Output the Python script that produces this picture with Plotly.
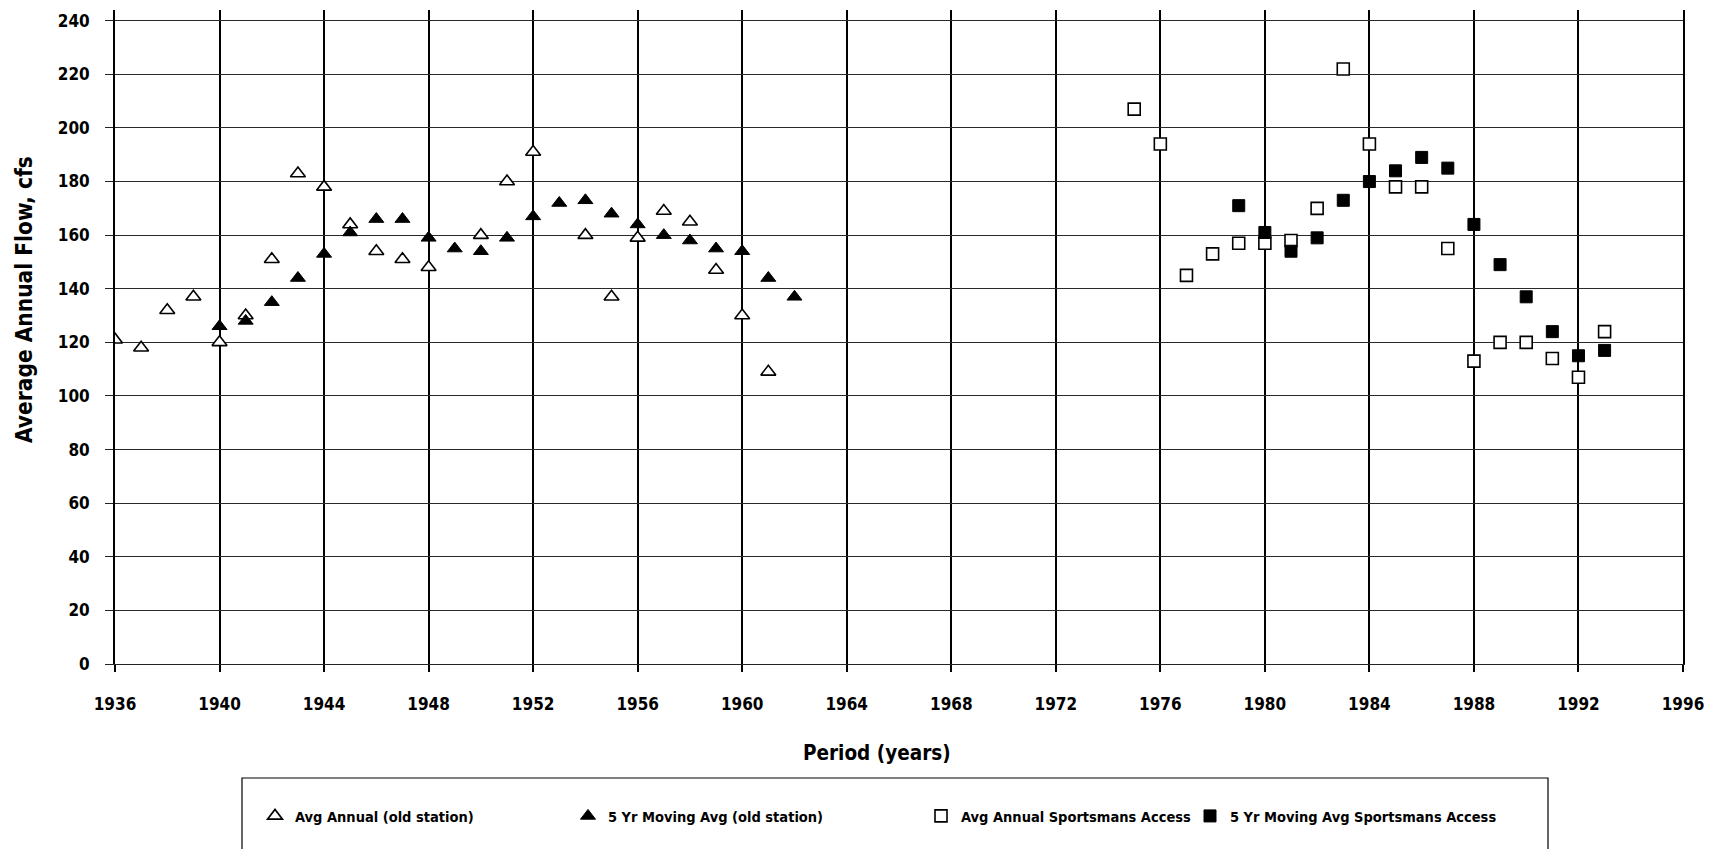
import plotly.graph_objects as go

# ---- data ----
old_years = [1936, 1937, 1938, 1939, 1940, 1941, 1942, 1943, 1944, 1945, 1946, 1947, 1948,
             1950, 1951, 1952, 1954, 1955, 1956, 1957, 1958, 1959, 1960, 1961]
old_annual = [121, 118, 132, 137, 120, 130, 151, 183, 178, 164, 154, 151, 148,
              160, 180, 191, 160, 137, 159, 169, 165, 147, 130, 109]

old_ma_years = [1940, 1941, 1942, 1943, 1944, 1945, 1946, 1947, 1948, 1949, 1950, 1951,
                1952, 1953, 1954, 1955, 1956, 1957, 1958, 1959, 1960, 1961, 1962]
old_ma = [126, 128, 135, 144, 153, 161, 166, 166, 159, 155, 154, 159,
          167, 172, 173, 168, 164, 160, 158, 155, 154, 144, 137]

sa_years = [1975, 1976, 1977, 1978, 1979, 1980, 1981, 1982, 1983, 1984, 1985, 1986,
            1987, 1988, 1989, 1990, 1991, 1992, 1993]
sa_annual = [207, 194, 145, 153, 157, 157, 158, 170, 222, 194, 178, 178,
             155, 113, 120, 120, 114, 107, 124]

sa_ma_years = [1979, 1980, 1981, 1982, 1983, 1984, 1985, 1986, 1987, 1988, 1989, 1990,
               1991, 1992, 1993]
sa_ma = [171, 161, 154, 159, 173, 180, 184, 189, 185, 164, 149, 137, 124, 115, 117]

x_ticks = list(range(1936, 1997, 4))
y_ticks = list(range(0, 241, 20))

names = ["Avg Annual (old station)", "5 Yr Moving Avg (old station)",
         "Avg Annual Sportsmans Access", "5 Yr Moving Avg Sportsmans Access"]

FONT = "DejaVu Sans Condensed, Liberation Sans Narrow, sans-serif"

# page body has an 8px margin: figure is drawn offset by 8px in the window
OFF = 8
SCREEN_W, SCREEN_H = 1712, 849
# intended plot area in screen pixels
PL, PR, PT, PB = 115, 1683, 10, 664
PW, PH = PR - PL, PB - PT

W, H = SCREEN_W - OFF, SCREEN_H - OFF
L = PL - OFF
T = PT - OFF
R = W - L - PW
B = H - T - PH


def px_x(px):
    return (px - PL) / PW


def px_y(py):
    return (PB - py) / PH


fig = go.Figure()
fig.add_trace(go.Scatter(x=old_years, y=old_annual, mode="markers", name=names[0],
                         marker=dict(symbol="triangle-up", size=13, color="white",
                                     line=dict(color="black", width=1.6)),
                         legend="legend"))
fig.add_trace(go.Scatter(x=old_ma_years, y=old_ma, mode="markers", name=names[1],
                         marker=dict(symbol="triangle-up", size=13, color="black",
                                     line=dict(color="black", width=1)),
                         legend="legend2"))
fig.add_trace(go.Scatter(x=sa_years, y=sa_annual, mode="markers", name=names[2],
                         marker=dict(symbol="square", size=12, color="white",
                                     line=dict(color="black", width=1.6)),
                         legend="legend3"))
fig.add_trace(go.Scatter(x=sa_ma_years, y=sa_ma, mode="markers", name=names[3],
                         marker=dict(symbol="square", size=12, color="black",
                                     line=dict(color="black", width=1)),
                         legend="legend4"))

leg_y = px_y(816)
leg_common = dict(orientation="v", yanchor="middle", y=leg_y, xanchor="left",
                  bgcolor="rgba(0,0,0,0)", borderwidth=0,
                  font=dict(family=FONT, size=14.5, color="black", weight="bold"))
text_starts = [295, 608, 961, 1230]
leg_x = [t - 40 for t in text_starts]

fig.update_layout(
    width=W, height=H,
    margin=dict(l=L, r=R, t=T, b=B, autoexpand=False),
    paper_bgcolor="white", plot_bgcolor="white",
    font=dict(family=FONT, color="black"),
    legend=dict(x=px_x(leg_x[0]), **leg_common),
    legend2=dict(x=px_x(leg_x[1]), **leg_common),
    legend3=dict(x=px_x(leg_x[2]), **leg_common),
    legend4=dict(x=px_x(leg_x[3]), **leg_common),
    xaxis=dict(range=[1936, 1996], tickvals=x_ticks, ticktext=[str(v) for v in x_ticks],
               showgrid=True, gridcolor="black", gridwidth=1.8,
               showline=True, linecolor="#222222", linewidth=1.2,
               ticks="outside", ticklen=7, tickcolor="black", tickwidth=1.5,
               ticklabelstandoff=17, ticklabeloverflow="allow", automargin=False,
               tickfont=dict(family=FONT, size=17, color="black", weight="bold"),
               zeroline=False),
    yaxis=dict(range=[0, 244], tickvals=y_ticks, ticktext=[str(v) for v in y_ticks],
               showgrid=True, gridcolor="#2a2a2a", gridwidth=1.1,
               showline=True, linecolor="black", linewidth=1.8, mirror=True,
               ticks="outside", ticklen=8, tickcolor="#222222", tickwidth=1.2,
               ticklabelstandoff=12, automargin=False,
               tickfont=dict(family=FONT, size=17, color="black", weight="bold"),
               zeroline=False),
    showlegend=True,
)

# x axis title
fig.add_annotation(text="<b>Period (years)</b>", xref="paper", yref="paper",
                   x=px_x(877), y=px_y(753), xanchor="center", yanchor="middle",
                   showarrow=False, font=dict(family=FONT, size=20.5, color="black"))
# y axis title
fig.add_annotation(text="<b>Average Annual Flow, cfs</b>", xref="paper", yref="paper",
                   x=px_x(24), y=px_y(300), xanchor="center", yanchor="middle",
                   textangle=-90, showarrow=False,
                   font=dict(family=FONT, size=22.5, color="black"))

# legend frame (runs off the bottom of the page, as in the reference)
fig.add_shape(type="rect", xref="paper", yref="paper",
              x0=px_x(242), x1=px_x(1548), y0=px_y(778), y1=px_y(900),
              line=dict(color="black", width=1.2), fillcolor="rgba(0,0,0,0)")

fig.write_html("out.html")
